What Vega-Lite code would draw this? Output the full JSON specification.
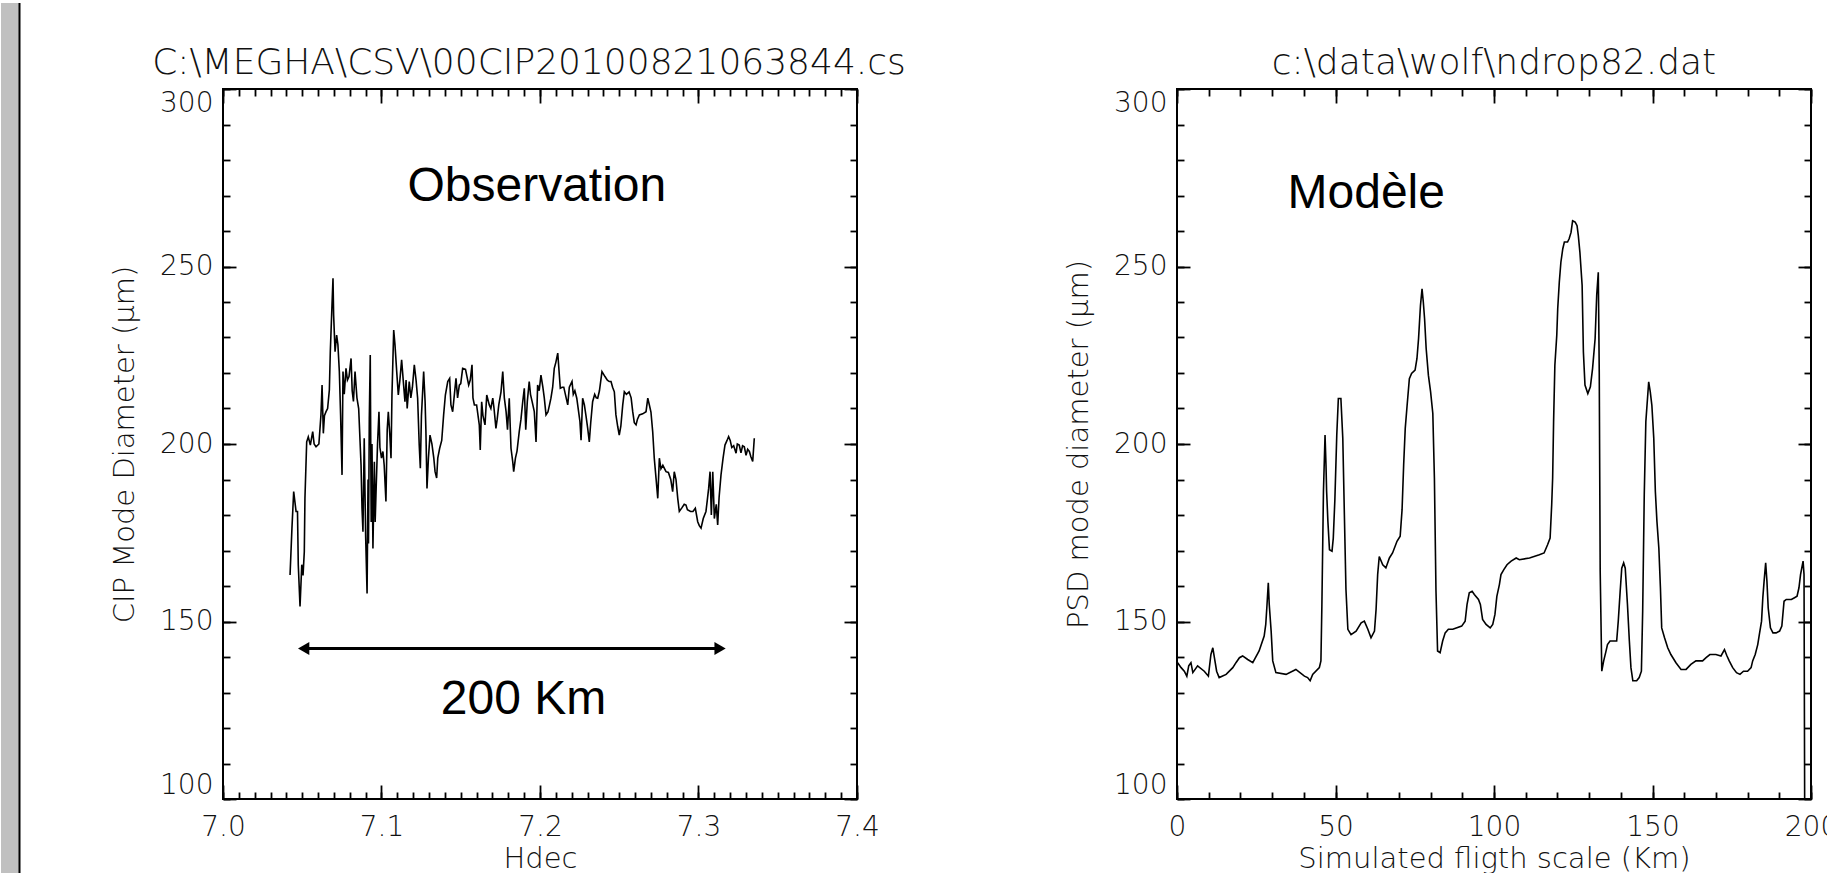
{
  "$schema": "https://vega.github.io/schema/vega-lite/v6.json",
  "background": "white",
  "padding": {"left": 0, "top": 0, "right": -10, "bottom": -4},
  "spacing": 320,
  "bounds": "flush",
  "config": {
    "view": {"stroke": "black", "strokeWidth": 2, "fill": "white"},
    "axis": {"domain": false, "grid": false, "tickColor": "black", "tickWidth": 1.8, "minExtent": 0,
      "labelFont": "DejaVu Sans", "labelFontSize": 28, "labelFontWeight": 200, "labelColor": "#111",
      "titleFont": "DejaVu Sans", "titleFontSize": 29, "titleFontWeight": 200, "titleColor": "#111",
      "labelOverlap": false},
    "axisX": {"labelFlush": false},
    "axisY": {"labelFlush": true, "labelFlushOffset": 0},
    "title": {"font": "DejaVu Sans", "fontSize": 36, "fontWeight": 200, "color": "#111"}
  },
  "datasets": {
    "obs": [
      {"hdec":7.0423,"diam":163.1},{"hdec":7.0435,"diam":176.3},{"hdec":7.0446,"diam":186.6},{"hdec":7.0461,"diam":181},{"hdec":7.047,"diam":181},{"hdec":7.0475,"diam":165.9},{"hdec":7.0486,"diam":154.2},{"hdec":7.0497,"diam":166},{"hdec":7.0505,"diam":163},{"hdec":7.0513,"diam":169.7},{"hdec":7.0517,"diam":184.7},{"hdec":7.0528,"diam":200.6},{"hdec":7.0538,"diam":202},{"hdec":7.0551,"diam":199.7},{"hdec":7.0566,"diam":203.5},{"hdec":7.0575,"diam":200},{"hdec":7.0587,"diam":199.2},{"hdec":7.0605,"diam":200},{"hdec":7.0618,"diam":208.2},{"hdec":7.0625,"diam":216.6},{"hdec":7.0633,"diam":203},{"hdec":7.064,"diam":208},{"hdec":7.065,"diam":209.1},{"hdec":7.066,"diam":210},{"hdec":7.0671,"diam":215.2},{"hdec":7.0677,"diam":226},{"hdec":7.0688,"diam":239.6},{"hdec":7.0694,"diam":246.7},{"hdec":7.0698,"diam":236.3},{"hdec":7.0707,"diam":226},{"hdec":7.0717,"diam":230.7},{"hdec":7.0725,"diam":228},{"hdec":7.0734,"diam":220.4},{"hdec":7.0742,"diam":208},{"hdec":7.0751,"diam":191.3},{"hdec":7.0757,"diam":220.4},{"hdec":7.0765,"diam":214},{"hdec":7.0776,"diam":221.3},{"hdec":7.0785,"diam":218},{"hdec":7.0795,"diam":219},{"hdec":7.0808,"diam":224.1},{"hdec":7.0815,"diam":215},{"hdec":7.0823,"diam":212},{"hdec":7.0833,"diam":220.4},{"hdec":7.0845,"diam":213},{"hdec":7.0856,"diam":210},{"hdec":7.0871,"diam":194},{"hdec":7.0877,"diam":181.9},{"hdec":7.0883,"diam":175.3},{"hdec":7.0891,"diam":201.6},{"hdec":7.09,"diam":174},{"hdec":7.0909,"diam":157.9},{"hdec":7.0915,"diam":190},{"hdec":7.0918,"diam":172},{"hdec":7.0923,"diam":207.2},{"hdec":7.0929,"diam":225.1},{"hdec":7.0935,"diam":178},{"hdec":7.094,"diam":200},{"hdec":7.0946,"diam":170.6},{"hdec":7.0955,"diam":195},{"hdec":7.096,"diam":178},{"hdec":7.0965,"diam":185.6},{"hdec":7.0975,"diam":200},{"hdec":7.0984,"diam":209.1},{"hdec":7.099,"diam":199},{"hdec":7.1,"diam":196},{"hdec":7.1009,"diam":197.9},{"hdec":7.1017,"diam":194},{"hdec":7.1028,"diam":183.8},{"hdec":7.1036,"diam":204},{"hdec":7.1043,"diam":209.1},{"hdec":7.1052,"diam":203},{"hdec":7.106,"diam":196},{"hdec":7.1066,"diam":213.8},{"hdec":7.1077,"diam":232.1},{"hdec":7.1085,"diam":228},{"hdec":7.1096,"diam":220.4},{"hdec":7.1106,"diam":213.8},{"hdec":7.1116,"diam":218},{"hdec":7.1127,"diam":223.7},{"hdec":7.1137,"diam":218},{"hdec":7.1148,"diam":211.9},{"hdec":7.1155,"diam":218},{"hdec":7.1162,"diam":210},{"hdec":7.1175,"diam":217.6},{"hdec":7.1185,"diam":213},{"hdec":7.1195,"diam":216},{"hdec":7.1207,"diam":222.3},{"hdec":7.1218,"diam":218},{"hdec":7.1228,"diam":212.9},{"hdec":7.1238,"diam":199.7},{"hdec":7.1245,"diam":193.2},{"hdec":7.1252,"diam":208},{"hdec":7.1266,"diam":220.4},{"hdec":7.1275,"diam":212},{"hdec":7.128,"diam":204},{"hdec":7.1287,"diam":187.5},{"hdec":7.1296,"diam":196},{"hdec":7.1306,"diam":202.5},{"hdec":7.1318,"diam":200},{"hdec":7.133,"diam":196},{"hdec":7.1338,"diam":192.2},{"hdec":7.1348,"diam":190.4},{"hdec":7.1355,"diam":196},{"hdec":7.1367,"diam":198.8},{"hdec":7.138,"diam":201},{"hdec":7.1392,"diam":208.2},{"hdec":7.1403,"diam":213.8},{"hdec":7.1418,"diam":217.6},{"hdec":7.143,"diam":218.5},{"hdec":7.1438,"diam":211},{"hdec":7.1449,"diam":209.1},{"hdec":7.147,"diam":218.5},{"hdec":7.148,"diam":213},{"hdec":7.1491,"diam":216.6},{"hdec":7.15,"diam":217},{"hdec":7.1512,"diam":221.3},{"hdec":7.153,"diam":221},{"hdec":7.155,"diam":216.6},{"hdec":7.156,"diam":218},{"hdec":7.1571,"diam":222.3},{"hdec":7.1577,"diam":213},{"hdec":7.1586,"diam":211},{"hdec":7.16,"diam":211},{"hdec":7.1617,"diam":205.4},{"hdec":7.1623,"diam":198.3},{"hdec":7.1632,"diam":211.9},{"hdec":7.164,"diam":208},{"hdec":7.1653,"diam":205.4},{"hdec":7.1664,"diam":213.8},{"hdec":7.168,"diam":211},{"hdec":7.169,"diam":210},{"hdec":7.1702,"diam":212.9},{"hdec":7.171,"diam":210},{"hdec":7.1722,"diam":204.4},{"hdec":7.173,"diam":207},{"hdec":7.174,"diam":211},{"hdec":7.1754,"diam":214.7},{"hdec":7.1765,"diam":220.4},{"hdec":7.1775,"diam":213},{"hdec":7.1786,"diam":209.1},{"hdec":7.1795,"diam":204},{"hdec":7.1806,"diam":212.9},{"hdec":7.1817,"diam":198.8},{"hdec":7.1828,"diam":195},{"hdec":7.1834,"diam":192.2},{"hdec":7.1845,"diam":196},{"hdec":7.1855,"diam":198},{"hdec":7.1869,"diam":203.5},{"hdec":7.188,"diam":207},{"hdec":7.1891,"diam":211.9},{"hdec":7.1901,"diam":215.7},{"hdec":7.191,"diam":204},{"hdec":7.192,"diam":212},{"hdec":7.1932,"diam":217.6},{"hdec":7.194,"diam":214},{"hdec":7.195,"diam":212},{"hdec":7.1964,"diam":209.1},{"hdec":7.1975,"diam":200.6},{"hdec":7.1985,"diam":216.6},{"hdec":7.1995,"diam":215},{"hdec":7.2006,"diam":219.4},{"hdec":7.2018,"diam":216},{"hdec":7.2027,"diam":213},{"hdec":7.2038,"diam":208.2},{"hdec":7.205,"diam":209},{"hdec":7.206,"diam":211},{"hdec":7.2069,"diam":212.9},{"hdec":7.208,"diam":216},{"hdec":7.209,"diam":221.3},{"hdec":7.21,"diam":223},{"hdec":7.2112,"diam":225.6},{"hdec":7.2128,"diam":215.7},{"hdec":7.214,"diam":216},{"hdec":7.215,"diam":216},{"hdec":7.2165,"diam":213},{"hdec":7.2175,"diam":211},{"hdec":7.2185,"diam":216},{"hdec":7.2202,"diam":217.6},{"hdec":7.221,"diam":214},{"hdec":7.222,"diam":215},{"hdec":7.2232,"diam":212.9},{"hdec":7.2252,"diam":206.3},{"hdec":7.2259,"diam":201.1},{"hdec":7.2269,"diam":212.9},{"hdec":7.228,"diam":211},{"hdec":7.229,"diam":208},{"hdec":7.2301,"diam":204.4},{"hdec":7.2311,"diam":200.6},{"hdec":7.232,"diam":206},{"hdec":7.2332,"diam":211.9},{"hdec":7.2345,"diam":214},{"hdec":7.2355,"diam":213},{"hdec":7.2364,"diam":212.9},{"hdec":7.2375,"diam":215},{"hdec":7.2391,"diam":220.4},{"hdec":7.241,"diam":219},{"hdec":7.2425,"diam":218},{"hdec":7.2437,"diam":217.6},{"hdec":7.2448,"diam":217.6},{"hdec":7.2458,"diam":216},{"hdec":7.2469,"diam":214.7},{"hdec":7.2479,"diam":208.2},{"hdec":7.249,"diam":205},{"hdec":7.25,"diam":202.5},{"hdec":7.251,"diam":205},{"hdec":7.2522,"diam":211},{"hdec":7.2532,"diam":214.7},{"hdec":7.2545,"diam":214},{"hdec":7.2562,"diam":214.7},{"hdec":7.2575,"diam":213},{"hdec":7.2585,"diam":209.1},{"hdec":7.2595,"diam":206},{"hdec":7.2606,"diam":205.4},{"hdec":7.2615,"diam":207},{"hdec":7.2627,"diam":208.2},{"hdec":7.2648,"diam":208.5},{"hdec":7.2669,"diam":209.1},{"hdec":7.268,"diam":212.9},{"hdec":7.269,"diam":211},{"hdec":7.27,"diam":209},{"hdec":7.2711,"diam":203.5},{"hdec":7.2721,"diam":196},{"hdec":7.2732,"diam":190.4},{"hdec":7.2743,"diam":184.7},{"hdec":7.2753,"diam":196},{"hdec":7.2763,"diam":193},{"hdec":7.2775,"diam":194},{"hdec":7.2795,"diam":192.2},{"hdec":7.281,"diam":192},{"hdec":7.2825,"diam":190},{"hdec":7.2837,"diam":186.6},{"hdec":7.2847,"diam":192.2},{"hdec":7.2858,"diam":190},{"hdec":7.2869,"diam":184.7},{"hdec":7.2879,"diam":181},{"hdec":7.2895,"diam":182},{"hdec":7.291,"diam":183},{"hdec":7.2921,"diam":182.8},{"hdec":7.293,"diam":181.5},{"hdec":7.295,"diam":181},{"hdec":7.2965,"diam":181},{"hdec":7.298,"diam":181.9},{"hdec":7.2995,"diam":178.1},{"hdec":7.3005,"diam":177},{"hdec":7.3016,"diam":176.3},{"hdec":7.303,"diam":179},{"hdec":7.3047,"diam":181},{"hdec":7.3055,"diam":184},{"hdec":7.3064,"diam":187.5},{"hdec":7.3073,"diam":192.2},{"hdec":7.3081,"diam":180},{"hdec":7.309,"diam":192.2},{"hdec":7.31,"diam":179},{"hdec":7.3112,"diam":183},{"hdec":7.3121,"diam":177.2},{"hdec":7.313,"diam":185},{"hdec":7.3142,"diam":191.3},{"hdec":7.3155,"diam":196},{"hdec":7.3167,"diam":199.7},{"hdec":7.318,"diam":201},{"hdec":7.319,"diam":202.1},{"hdec":7.32,"diam":201},{"hdec":7.321,"diam":199},{"hdec":7.3222,"diam":199.5},{"hdec":7.3237,"diam":197.4},{"hdec":7.3245,"diam":200},{"hdec":7.3257,"diam":199.7},{"hdec":7.3268,"diam":197.5},{"hdec":7.3278,"diam":199.5},{"hdec":7.3289,"diam":199.2},{"hdec":7.33,"diam":196.8},{"hdec":7.331,"diam":198.5},{"hdec":7.3321,"diam":197.9},{"hdec":7.333,"diam":196.5},{"hdec":7.3342,"diam":195.1},{"hdec":7.3352,"diam":201.6}
    ],
    "model": [
      {"km":0.2,"diam":138.4},{"km":1.3,"diam":137},{"km":2.3,"diam":136},{"km":3.1,"diam":134.6},{"km":3.7,"diam":137.5},{"km":4.4,"diam":138.4},{"km":5,"diam":135.6},{"km":6.5,"diam":137.5},{"km":8.6,"diam":136},{"km":9.9,"diam":134.6},{"km":10.7,"diam":140.7},{"km":11.3,"diam":142.6},{"km":11.8,"diam":139.8},{"km":12.5,"diam":136},{"km":13.3,"diam":134.2},{"km":15.5,"diam":135.1},{"km":17.6,"diam":137},{"km":18.6,"diam":138.4},{"km":19.7,"diam":139.8},{"km":20.7,"diam":140.3},{"km":22.3,"diam":139.3},{"km":23.9,"diam":138.4},{"km":25.9,"diam":141.7},{"km":27.5,"diam":145.9},{"km":28,"diam":149.2},{"km":28.4,"diam":154.8},{"km":28.8,"diam":160.9},{"km":29.1,"diam":154.8},{"km":29.7,"diam":147.3},{"km":30.2,"diam":138.9},{"km":31.2,"diam":135.6},{"km":34.4,"diam":135.1},{"km":37.5,"diam":136.5},{"km":40.2,"diam":134.6},{"km":41.2,"diam":134.2},{"km":42,"diam":133.3},{"km":42.8,"diam":135.1},{"km":44.9,"diam":137},{"km":45.4,"diam":138.9},{"km":45.7,"diam":154.3},{"km":46.2,"diam":186.6},{"km":46.7,"diam":202.5},{"km":47,"diam":194.1},{"km":47.2,"diam":186.6},{"km":47.6,"diam":178.2},{"km":48.1,"diam":170.2},{"km":48.9,"diam":169.8},{"km":49.3,"diam":173.5},{"km":49.8,"diam":184.3},{"km":50.4,"diam":202.5},{"km":50.9,"diam":212.8},{"km":51.7,"diam":212.8},{"km":52.3,"diam":201.6},{"km":52.8,"diam":180.1},{"km":53.3,"diam":159},{"km":53.9,"diam":147.8},{"km":54.9,"diam":146.3},{"km":56.5,"diam":147.3},{"km":58.1,"diam":149.6},{"km":59.1,"diam":150.1},{"km":60.2,"diam":147.8},{"km":61.2,"diam":145.4},{"km":62.3,"diam":147.3},{"km":62.8,"diam":153.4},{"km":63.3,"diam":163.2},{"km":63.8,"diam":168.3},{"km":64.9,"diam":166},{"km":65.9,"diam":165.1},{"km":67,"diam":167.9},{"km":68,"diam":169.3},{"km":69.4,"diam":172.6},{"km":70.4,"diam":174},{"km":71,"diam":181.5},{"km":71.5,"diam":194.1},{"km":72,"diam":204.4},{"km":72.6,"diam":211},{"km":73.3,"diam":218.4},{"km":74,"diam":219.9},{"km":75.1,"diam":220.8},{"km":75.7,"diam":224.1},{"km":76.2,"diam":229.7},{"km":76.8,"diam":239},{"km":77.3,"diam":243.7},{"km":77.7,"diam":240},{"km":78.1,"diam":235.3},{"km":78.6,"diam":226.9},{"km":79.3,"diam":219.4},{"km":80,"diam":214.7},{"km":80.7,"diam":208.6},{"km":81.2,"diam":190.4},{"km":81.7,"diam":158.5},{"km":82.2,"diam":141.7},{"km":83,"diam":141.2},{"km":83.8,"diam":144.5},{"km":84.6,"diam":146.8},{"km":85.6,"diam":147.8},{"km":87,"diam":147.8},{"km":89.8,"diam":148.7},{"km":90.9,"diam":150.1},{"km":91.5,"diam":154.8},{"km":92.2,"diam":158.1},{"km":93.1,"diam":158.5},{"km":93.8,"diam":157.6},{"km":95.1,"diam":156.2},{"km":95.7,"diam":154.8},{"km":96.4,"diam":150.6},{"km":97.5,"diam":149.2},{"km":98.8,"diam":148.2},{"km":99.6,"diam":149.2},{"km":100.3,"diam":152},{"km":100.9,"diam":157.1},{"km":101.7,"diam":160.4},{"km":102.2,"diam":163.2},{"km":103.1,"diam":164.6},{"km":104.1,"diam":166},{"km":105.4,"diam":167},{"km":107,"diam":167.9},{"km":108,"diam":167.4},{"km":111.2,"diam":167.9},{"km":114.3,"diam":168.8},{"km":115.8,"diam":169.3},{"km":116.9,"diam":171.6},{"km":117.7,"diam":173.5},{"km":118.2,"diam":182.9},{"km":118.5,"diam":190.4},{"km":118.8,"diam":206.3},{"km":119.2,"diam":222.2},{"km":119.8,"diam":230.6},{"km":120.1,"diam":238.1},{"km":120.6,"diam":245.6},{"km":121.1,"diam":251.2},{"km":121.7,"diam":255},{"km":122.2,"diam":256.9},{"km":123.2,"diam":256.9},{"km":123.7,"diam":257.8},{"km":124.3,"diam":259.6},{"km":124.8,"diam":262.9},{"km":125.6,"diam":262.5},{"km":126.2,"diam":261.5},{"km":126.6,"diam":258.7},{"km":127.1,"diam":254},{"km":127.8,"diam":244.7},{"km":128.2,"diam":225.9},{"km":128.7,"diam":216.6},{"km":129.6,"diam":214.2},{"km":130.4,"diam":216.1},{"km":131.1,"diam":221.3},{"km":131.9,"diam":229.7},{"km":132.4,"diam":241.9},{"km":132.9,"diam":248.4},{"km":133.2,"diam":220.3},{"km":133.5,"diam":164.1},{"km":134,"diam":136},{"km":134.6,"diam":138.9},{"km":135.3,"diam":141.5},{"km":135.8,"diam":143.5},{"km":136.6,"diam":144.5},{"km":138.7,"diam":144.5},{"km":139.2,"diam":150.1},{"km":139.8,"diam":158.5},{"km":140.3,"diam":165},{"km":140.9,"diam":166.5},{"km":141.4,"diam":165},{"km":142.1,"diam":154.8},{"km":142.7,"diam":144.5},{"km":143.2,"diam":137},{"km":143.8,"diam":133.3},{"km":145,"diam":133.3},{"km":145.8,"diam":134.2},{"km":146.5,"diam":136},{"km":146.9,"diam":152.9},{"km":147.4,"diam":185.7},{"km":147.9,"diam":206.3},{"km":148.5,"diam":213.8},{"km":148.8,"diam":217.5},{"km":149.3,"diam":214.7},{"km":149.8,"diam":210.9},{"km":150.4,"diam":201.6},{"km":150.9,"diam":186.6},{"km":151.4,"diam":178.2},{"km":152,"diam":170.7},{"km":152.5,"diam":159.5},{"km":152.9,"diam":148.2},{"km":153.8,"diam":145.4},{"km":154.8,"diam":142.6},{"km":155.8,"diam":140.7},{"km":157.4,"diam":138.4},{"km":159,"diam":136.5},{"km":160.6,"diam":136.5},{"km":162.1,"diam":137.9},{"km":163.7,"diam":138.9},{"km":165.8,"diam":138.9},{"km":166.9,"diam":139.8},{"km":168.1,"diam":140.7},{"km":170,"diam":140.7},{"km":171.6,"diam":140.3},{"km":172.7,"diam":142.1},{"km":173.4,"diam":140.5},{"km":174.2,"diam":138.9},{"km":175.3,"diam":137},{"km":176.5,"diam":135.6},{"km":177.6,"diam":135.1},{"km":178.7,"diam":136},{"km":180,"diam":136},{"km":181.1,"diam":137},{"km":181.6,"diam":138.9},{"km":182.4,"diam":140.7},{"km":183.2,"diam":143.5},{"km":183.7,"diam":146.3},{"km":184.4,"diam":150.1},{"km":184.8,"diam":156.7},{"km":185.2,"diam":161.3},{"km":185.7,"diam":166.5},{"km":186.1,"diam":161.3},{"km":186.5,"diam":153.8},{"km":187.2,"diam":148.2},{"km":188,"diam":146.8},{"km":189,"diam":146.8},{"km":190.1,"diam":147.3},{"km":190.8,"diam":148.7},{"km":191.5,"diam":155.7},{"km":192.2,"diam":156.2},{"km":193.8,"diam":156.2},{"km":194.8,"diam":156.7},{"km":195.6,"diam":157.1},{"km":196.2,"diam":159.5},{"km":196.7,"diam":163.2},{"km":197.5,"diam":167},{"km":197.8,"diam":163.2},{"km":198,"diam":100}
    ]
  },
  "hconcat": [
    {
      "width": 634,
      "height": 710,
      "title": {"text": "C:\\MEGHA\\CSV\\00CIP20100821063844.cs", "baseline": "alphabetic", "offset": -108, "dx": -11, "anchor": "middle"},
      "resolve": {"axis": {"x": "independent", "y": "independent"}},
      "layer": [
        {
          "data": {"values": [{}]},
          "mark": {"type": "rect", "color": "#c0c0c0"},
          "encoding": {
            "x": {"datum": 6.85994, "type": "quantitative", "scale": {"domain": [7.0, 7.4], "nice": false, "zero": false}, "axis": null},
            "x2": {"datum": 6.87129},
            "y": {"datum": 324.23, "type": "quantitative", "scale": {"domain": [100, 300], "nice": false, "zero": false}, "axis": null},
            "y2": {"datum": 78.31}
          }
        },
        {
          "data": {"values": [{}]},
          "mark": {"type": "rule", "color": "black", "strokeWidth": 2},
          "encoding": {
            "x": {"datum": 6.87161, "type": "quantitative", "scale": {"domain": [7.0, 7.4], "nice": false, "zero": false}, "axis": null},
            "y": {"datum": 324.23, "type": "quantitative", "scale": {"domain": [100, 300], "nice": false, "zero": false}, "axis": null},
            "y2": {"datum": 78.31}
          }
        },
        {
          "data": {"name": "obs"},
          "mark": {"type": "line", "color": "black", "strokeWidth": 1.6},
          "encoding": {
            "x": {"field": "hdec", "type": "quantitative", "scale": {"domain": [7.0, 7.4], "nice": false, "zero": false},
              "axis": {"orient": "bottom", "values": [7.0, 7.1, 7.2, 7.3, 7.4], "format": ".1f", "tickSize": -14, "labelPadding": 28, "title": "Hdec", "titlePadding": 3}},
            "y": {"field": "diam", "type": "quantitative", "scale": {"domain": [100, 300], "nice": false, "zero": false},
              "axis": {"orient": "left", "values": [100, 150, 200, 250, 300], "tickSize": -13, "labelPadding": 23, "title": "CIP Mode Diameter (μm)", "titlePadding": 20}}
          }
        },
        {
          "data": {"values": [{}]},
          "mark": {"type": "text", "font": "Liberation Sans", "fontSize": 48, "align": "center", "baseline": "alphabetic", "color": "black"},
          "encoding": {
            "x": {"datum": 7.198, "type": "quantitative", "scale": {"domain": [7.0, 7.4], "nice": false, "zero": false},
              "axis": {"orient": "bottom", "values": [7,7.01,7.02,7.03,7.04,7.05,7.06,7.07,7.08,7.09,7.1,7.11,7.12,7.13,7.14,7.15,7.16,7.17,7.18,7.19,7.2,7.21,7.22,7.23,7.24,7.25,7.26,7.27,7.28,7.29,7.3,7.31,7.32,7.33,7.34,7.35,7.36,7.37,7.38,7.39,7.4], "tickSize": -7, "labels": false, "title": null}},
            "y": {"datum": 268.5, "type": "quantitative", "scale": {"domain": [100, 300], "nice": false, "zero": false},
              "axis": {"orient": "left", "values": [100,110,120,130,140,150,160,170,180,190,200,210,220,230,240,250,260,270,280,290,300], "tickSize": -7, "labels": false, "title": null}},
            "text": {"value": "Observation"}
          }
        },
        {
          "data": {"values": [{}]},
          "mark": {"type": "text", "font": "Liberation Sans", "fontSize": 48, "align": "center", "baseline": "alphabetic", "color": "black"},
          "encoding": {
            "x": {"datum": 7.1896, "type": "quantitative", "scale": {"domain": [7.0, 7.4], "nice": false, "zero": false},
              "axis": {"orient": "top", "values": [7.0, 7.1, 7.2, 7.3, 7.4], "tickSize": -14, "labels": false, "title": null}},
            "y": {"datum": 123.9, "type": "quantitative", "scale": {"domain": [100, 300], "nice": false, "zero": false},
              "axis": {"orient": "right", "values": [100, 150, 200, 250, 300], "tickSize": -13, "labels": false, "title": null}},
            "text": {"value": "200 Km"}
          }
        },
        {
          "data": {"values": [{}]},
          "mark": {"type": "rule", "color": "black", "strokeWidth": 3},
          "encoding": {
            "x": {"datum": 7.051, "type": "quantitative", "scale": {"domain": [7.0, 7.4], "nice": false, "zero": false},
              "axis": {"orient": "top", "values": [7,7.01,7.02,7.03,7.04,7.05,7.06,7.07,7.08,7.09,7.1,7.11,7.12,7.13,7.14,7.15,7.16,7.17,7.18,7.19,7.2,7.21,7.22,7.23,7.24,7.25,7.26,7.27,7.28,7.29,7.3,7.31,7.32,7.33,7.34,7.35,7.36,7.37,7.38,7.39,7.4], "tickSize": -7, "labels": false, "title": null}},
            "x2": {"datum": 7.3136},
            "y": {"datum": 142.4, "type": "quantitative", "scale": {"domain": [100, 300], "nice": false, "zero": false},
              "axis": {"orient": "right", "values": [100,110,120,130,140,150,160,170,180,190,200,210,220,230,240,250,260,270,280,290,300], "tickSize": -7, "labels": false, "title": null}}
          }
        },
        {
          "data": {"values": [{}]},
          "mark": {"type": "point", "shape": "triangle-left", "filled": true, "size": 170, "color": "black", "opacity": 1},
          "encoding": {
            "x": {"datum": 7.0509, "type": "quantitative", "scale": {"domain": [7.0, 7.4], "nice": false, "zero": false}, "axis": null},
            "y": {"datum": 142.4, "type": "quantitative", "scale": {"domain": [100, 300], "nice": false, "zero": false}, "axis": null}
          }
        },
        {
          "data": {"values": [{}]},
          "mark": {"type": "point", "shape": "triangle-right", "filled": true, "size": 170, "color": "black", "opacity": 1},
          "encoding": {
            "x": {"datum": 7.3136, "type": "quantitative", "scale": {"domain": [7.0, 7.4], "nice": false, "zero": false}, "axis": null},
            "y": {"datum": 142.4, "type": "quantitative", "scale": {"domain": [100, 300], "nice": false, "zero": false}, "axis": null}
          }
        }
      ]
    },
    {
      "width": 634,
      "height": 710,
      "title": {"text": "c:\\data\\wolf\\ndrop82.dat", "baseline": "alphabetic", "offset": -22, "anchor": "middle"},
      "resolve": {"axis": {"x": "independent", "y": "independent"}},
      "layer": [
        {
          "data": {"name": "model"},
          "mark": {"type": "line", "color": "black", "strokeWidth": 1.6},
          "encoding": {
            "x": {"field": "km", "type": "quantitative", "scale": {"domain": [0, 200], "nice": false, "zero": false},
              "axis": {"orient": "bottom", "values": [0, 50, 100, 150, 200], "tickSize": -14, "labelPadding": 28, "title": "Simulated fligth scale (Km)", "titlePadding": 3}},
            "y": {"field": "diam", "type": "quantitative", "scale": {"domain": [100, 300], "nice": false, "zero": false},
              "axis": {"orient": "left", "values": [100, 150, 200, 250, 300], "tickSize": -13, "labelPadding": 23, "title": "PSD mode diameter (μm)", "titlePadding": 20}}
          }
        },
        {
          "data": {"values": [{}]},
          "mark": {"type": "text", "font": "Liberation Sans", "fontSize": 48, "align": "center", "baseline": "alphabetic", "color": "black"},
          "encoding": {
            "x": {"datum": 59.7, "type": "quantitative", "scale": {"domain": [0, 200], "nice": false, "zero": false},
              "axis": {"orient": "bottom", "values": [0,10,20,30,40,50,60,70,80,90,100,110,120,130,140,150,160,170,180,190,200], "tickSize": -7, "labels": false, "title": null}},
            "y": {"datum": 266.6, "type": "quantitative", "scale": {"domain": [100, 300], "nice": false, "zero": false},
              "axis": {"orient": "left", "values": [100,110,120,130,140,150,160,170,180,190,200,210,220,230,240,250,260,270,280,290,300], "tickSize": -7, "labels": false, "title": null}},
            "text": {"value": "Modèle"}
          }
        },
        {
          "data": {"name": "model"},
          "mark": {"type": "point", "opacity": 0},
          "encoding": {
            "x": {"field": "km", "type": "quantitative", "scale": {"domain": [0, 200], "nice": false, "zero": false},
              "axis": {"orient": "top", "values": [0, 50, 100, 150, 200], "tickSize": -14, "labels": false, "title": null}},
            "y": {"field": "diam", "type": "quantitative", "scale": {"domain": [100, 300], "nice": false, "zero": false},
              "axis": {"orient": "right", "values": [100, 150, 200, 250, 300], "tickSize": -13, "labels": false, "title": null}}
          }
        },
        {
          "data": {"name": "model"},
          "mark": {"type": "point", "opacity": 0},
          "encoding": {
            "x": {"field": "km", "type": "quantitative", "scale": {"domain": [0, 200], "nice": false, "zero": false},
              "axis": {"orient": "top", "values": [0,10,20,30,40,50,60,70,80,90,100,110,120,130,140,150,160,170,180,190,200], "tickSize": -7, "labels": false, "title": null}},
            "y": {"field": "diam", "type": "quantitative", "scale": {"domain": [100, 300], "nice": false, "zero": false},
              "axis": {"orient": "right", "values": [100,110,120,130,140,150,160,170,180,190,200,210,220,230,240,250,260,270,280,290,300], "tickSize": -7, "labels": false, "title": null}}
          }
        }
      ]
    }
  ]
}
